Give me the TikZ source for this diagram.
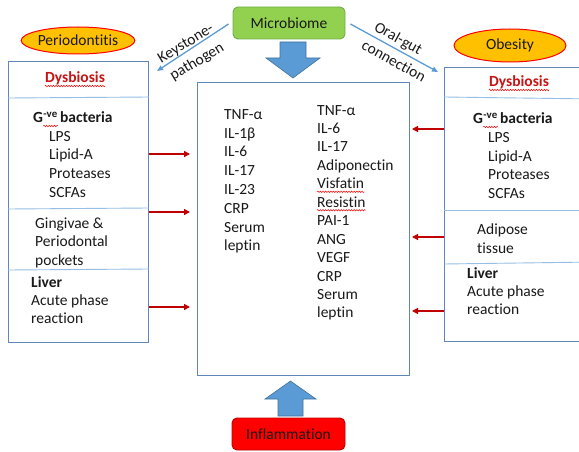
\documentclass[tikz,border=0pt]{standalone}
\usepackage{fontspec}
\setmainfont{Carlito}[Ligatures=NoCommon]
\usetikzlibrary{arrows.meta,decorations.pathmorphing,shapes.geometric}
\newcommand\nk{\kern0pt }
\definecolor{boxline}{RGB}{95,135,185}
\definecolor{divline}{RGB}{150,190,230}
\definecolor{arrowblue}{RGB}{91,155,213}
\definecolor{arrowedge}{RGB}{65,113,156}
\definecolor{darkred}{RGB}{192,0,0}
\definecolor{dysred}{RGB}{200,20,20}
\definecolor{mgreen}{RGB}{146,208,80}
\definecolor{mgreenedge}{RGB}{112,173,71}
\definecolor{gold}{RGB}{255,192,0}
\definecolor{txt}{RGB}{25,25,25}
\tikzset{
  lbl/.style={inner sep=0pt, anchor=base west, text=txt},
  bigbox/.style={draw=boxline, line width=0.9pt, fill=white, inner sep=0pt, anchor=north west},
  divider/.style={draw=divline, line width=0.9pt},
  wavy/.style={draw=red, line width=0.5pt, decorate, decoration={snake, amplitude=0.7pt, segment length=2.6pt}},
  redarrow/.style={draw=darkred, line width=1.3pt, -{Triangle[length=6pt,width=6pt]}},
  bluearrow/.style={draw=arrowblue, line width=1.3pt, -{Triangle[length=6pt,width=5pt]}},
  fatarrow/.style={fill=arrowblue, draw=arrowedge, line width=0.6pt},
  oval/.style={ellipse, draw=red, line width=1pt, fill=gold, inner sep=0pt, text=txt},
  rbox/.style={rounded corners=5pt, line width=0.9pt, inner sep=0pt, text=txt},
  tilted/.style={inner sep=0pt, text=txt}
}
\begin{document}
\begin{tikzpicture}[x=1pt,y=-1pt,font=\fontsize{15.5}{18.6}\selectfont]
\useasboundingbox (0,0) rectangle (579,452);
\clip (0,0) rectangle (579,452);

% top and bottom labels
\node[rbox, draw=mgreenedge, fill=mgreen, minimum width=112pt, minimum height=32pt] (micro) at (289,23) {Microbiome};
\node[rbox, draw=darkred, fill=red, minimum width=113pt, minimum height=32pt] (infl) at (288.5,434) {Inf\nk lammat\nk ion};
\node[oval, minimum width=113pt, minimum height=27pt] (perio) at (78,40.5) {Periodont\nk it\nk is};
\node[oval, minimum width=112pt, minimum height=33pt] (obes) at (510,45.5) {Obesity};

% boxes
\node[bigbox, minimum width=140pt, minimum height=281pt] (lbox) at (8,61) {};
\node[bigbox, minimum width=212pt, minimum height=293pt] (cbox) at (197,82) {};
\node[bigbox, minimum width=150pt, minimum height=274pt] (rbox) at (444,67) {};

% dividers
\draw[divider] (lbox.west |- 0,98) -- (lbox.east |- 0,97);
\draw[divider] (lbox.west |- 0,209) -- (lbox.east |- 0,208);
\draw[divider] (lbox.west |- 0,270) -- (lbox.east |- 0,269);
\draw[divider] (rbox.west |- 0,97) -- (rbox.east |- 0,99);
\draw[divider] (rbox.west |- 0,210) -- (rbox.east |- 0,210);
\draw[divider] (rbox.west |- 0,264) -- (rbox.east |- 0,262);

% fat arrows
\draw[fatarrow] (280,42) -- (306,42) -- (306,58) -- (320,58) -- (293,78) -- (266,58) -- (280,58) -- cycle;
\draw[fatarrow] (278,416) -- (303,416) -- (303,399) -- (316,399) -- (290.5,381) -- (265,399) -- (278,399) -- cycle;

% thin blue arrows
\coordinate (kend) at (157,71);
\coordinate (oend) at (438,72);
\draw[bluearrow] ([xshift=-4pt,yshift=-1pt]micro.west) -- (kend);
\draw[bluearrow] ([xshift=5pt,yshift=-1pt]micro.east) -- (oend);
\node[tilted, rotate=31] (kl1) at (186,44) {Keystone-};
\node[tilted, rotate=31] (kl2) at (197,62) {pathogen};
\node[tilted, rotate=-29] (ol1) at (398,39) {Oral-gut};
\node[tilted, rotate=-29] (ol2) at (394,61) {connect\nk ion};

% left box text
\node[lbl, anchor=base, text=dysred] (dysL) at (75,83) {\textbf{Dysbiosis}};
\draw[wavy] ([yshift=-3pt]dysL.base west) -- ([yshift=-3pt]dysL.base east);
\node[lbl] (gL) at (33,123) {\textbf{G}};
\node[lbl] (gLs) at (gL.base east) {\textbf{\textsuperscript{-ve}}};
\node[lbl] (gLb) at ([xshift=2pt]gLs.base east) {\textbf{bacteria}};
\draw[wavy] ([yshift=-3pt]gLs.base west) -- ([yshift=-3pt]gLs.base east);
\foreach \s [count=\i] in {LPS,Lipid-A,Proteases,SCFAs}
  \node[lbl] (lL\i) at (49,{141.5+18.5*(\i-1)}) {\s};
\foreach \s [count=\i] in {Gingivae \&,Periodontal,pockets}
  \node[lbl] (gg\i) at (35,{228+18.5*(\i-1)}) {\s};
\node[lbl] (livL) at (31,287) {\textbf{Liver}};
\node[lbl] (apL1) at (31,305.5) {Acute phase};
\node[lbl] (apL2) at (31,323) {react\nk ion};

% right box text
\node[lbl, anchor=base, text=dysred] (dysR) at (519,87) {\textbf{Dysbiosis}};
\draw[wavy] ([yshift=-3pt]dysR.base west) -- ([yshift=-3pt]dysR.base east);
\node[lbl] (gR) at (473,124) {\textbf{G}};
\node[lbl] (gRs) at (gR.base east) {\textbf{\textsuperscript{-ve}}};
\node[lbl] (gRb) at ([xshift=2pt]gRs.base east) {\textbf{bacteria}};
\draw[wavy] ([yshift=-3pt]gRs.base west) -- ([yshift=-3pt]gRs.base east);
\foreach \s [count=\i] in {LPS,Lipid-A,Proteases,SCFAs}
  \node[lbl] (lR\i) at (488,{142.5+18.5*(\i-1)}) {\s};
\node[lbl] (adR1) at (477,234) {Adipose};
\node[lbl] (adR2) at (477,253) {tissue};
\node[lbl] (livR) at (467,278) {\textbf{Liver}};
\node[lbl] (apR1) at (467,296.5) {Acute phase};
\node[lbl] (apR2) at (467,314.5) {react\nk ion};

% centre columns
\foreach \s [count=\i] in {TNF-α,IL-1β,IL-6,IL-17,IL-23,CRP,Serum,lept\nk in}
  \node[lbl] (ca\i) at (224,{119.5+18.75*(\i-1)}) {\s};
\foreach \s [count=\i] in {TNF-α,IL-6,IL-17,Adiponect\nk in,Visfat\nk in,Resist\nk in,PAI-1,ANG,VEGF,CRP,Serum,lept\nk in}
  \node[lbl] (cb\i) at (317,{115+18.45*(\i-1)}) {\s};
\draw[wavy] ([yshift=-3pt]cb5.base west) -- ([yshift=-3pt]cb5.base east);
\draw[wavy] ([yshift=-3pt]cb6.base west) -- ([yshift=-3pt]cb6.base east);

% red arrows
\coordinate (la1) at (190,154);
\coordinate (la2) at (190,212);
\coordinate (la3) at (190,307);
\coordinate (ra1) at (412,129);
\coordinate (ra2) at (412,237);
\coordinate (ra3) at (412,311);
\foreach \c in {la1,la2,la3} \draw[redarrow] (lbox.east |- \c) -- (\c);
\foreach \c in {ra1,ra2,ra3} \draw[redarrow] (rbox.west |- \c) -- (\c);
\end{tikzpicture}
\end{document}
